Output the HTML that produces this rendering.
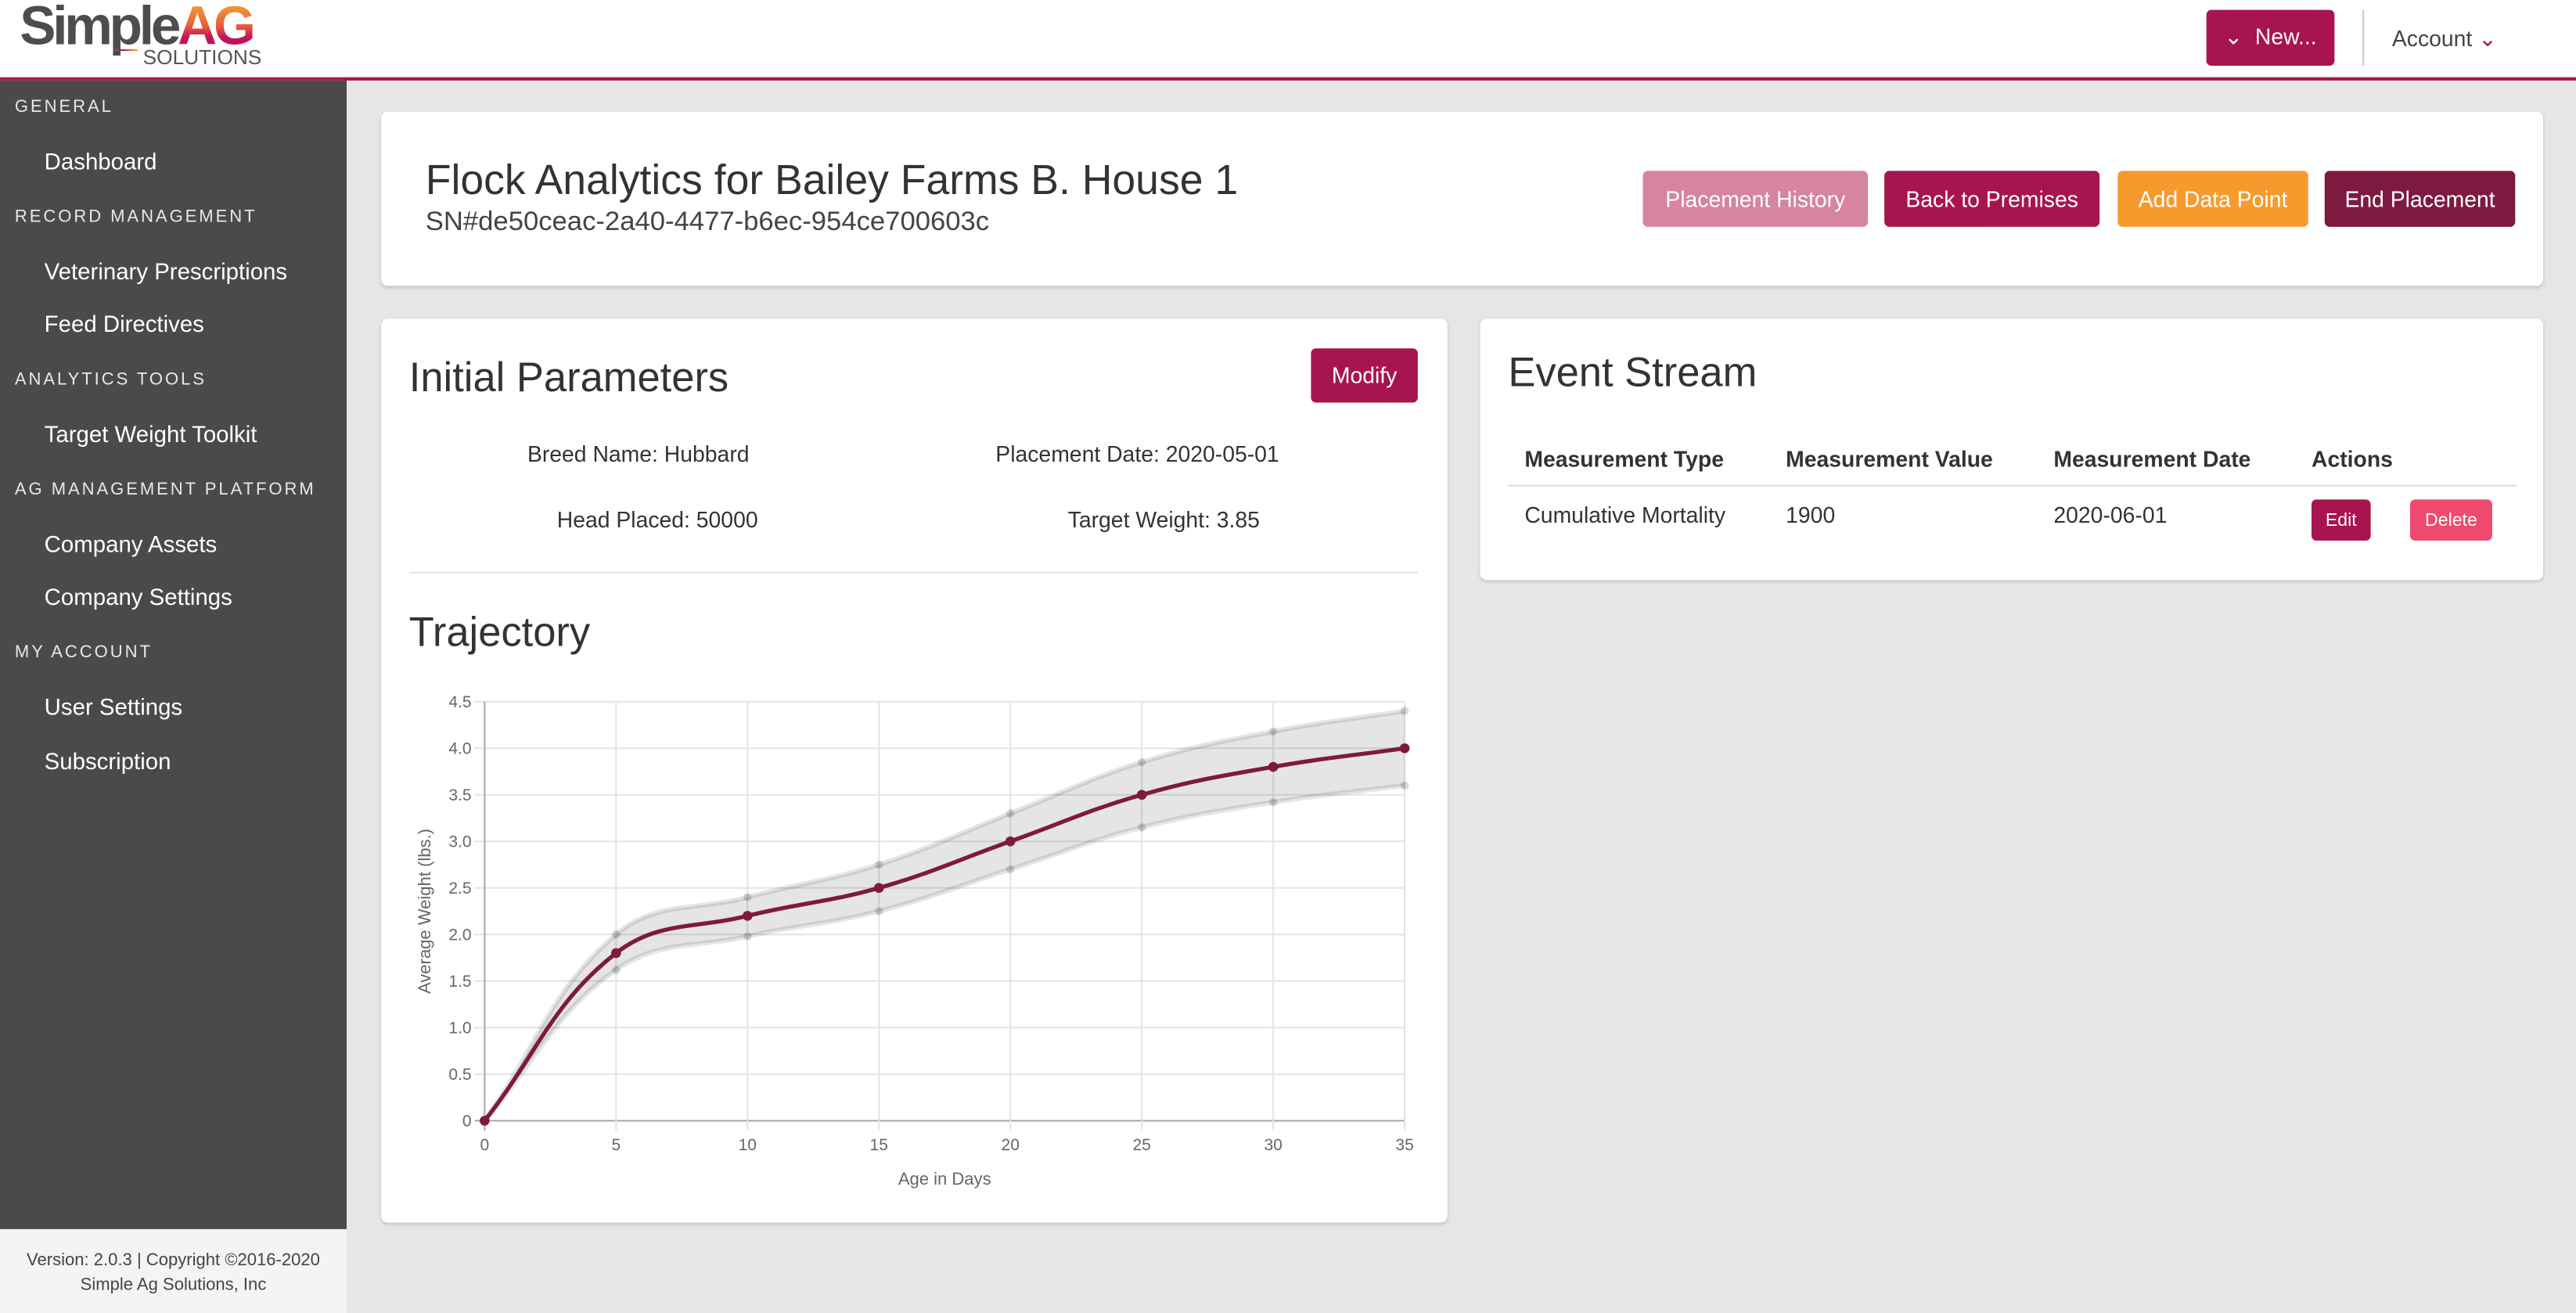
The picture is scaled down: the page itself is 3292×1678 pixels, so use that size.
<!DOCTYPE html>
<html><head><meta charset="utf-8">
<style>
html,body{margin:0;padding:0;width:3292px;height:1678px;overflow:hidden;background:#e6e6e6;font-family:"Liberation Sans",sans-serif}
#root{position:absolute;left:0;top:0;width:1568px;height:799px;transform-origin:0 0;transform:scale(2.0995,2.1001);background:#e6e6e6}
.a{position:absolute}
.card{position:absolute;background:#fff;border-radius:4px;box-shadow:0 1px 2px rgba(0,0,0,.15)}
.btn{position:absolute;color:#fff;font-size:13.5px;display:flex;align-items:center;justify-content:center;border-radius:3px}
.sh{position:absolute;left:9px;font-size:10.5px;letter-spacing:1.4px;color:#e8e8e8}
.si{position:absolute;left:27px;font-size:14px;color:#fff}
.t{position:absolute;color:#333;white-space:nowrap}
</style></head><body>
<div id="root">
<div class="a" style="left:0;top:0;width:1568px;height:47px;background:#fff;border-bottom:2px solid #a8174f"></div>
<div class="a" style="left:12px;top:0;width:150px;height:46px">
 <div class="a" style="left:0;top:-2px;font-size:33px;font-weight:bold;letter-spacing:-2px;color:#4d4d4d;line-height:36px">Simple<span style="background:linear-gradient(#f7b93a,#e8603a 50%,#c0155a 70%);-webkit-background-clip:text;color:transparent">AG</span></div>
 <div class="a" style="left:75px;top:29px;font-size:12.5px;color:#555;line-height:13px">SOLUTIONS</div>
 <div class="a" style="left:58px;top:30px;width:14px;height:1px;background:linear-gradient(90deg,#666,#a8174f,#e8603a,#f7b93a)"></div>
</div>
<div class="btn" style="left:1343px;top:6px;width:78px;height:34px;background:#a8144f">⌄&nbsp; New...</div>
<div class="a" style="left:1438px;top:6px;width:1px;height:34px;background:#ccc"></div>
<div class="t" style="left:1456px;top:16px;font-size:13.5px;color:#444">Account <span style="color:#a8144f">⌄</span></div>

<div class="a" style="left:0;top:49px;width:211px;height:699px;background:#4a4a4a">
 <div class="sh" style="top:10px">GENERAL</div>
 <div class="si" style="top:41px">Dashboard</div>
 <div class="sh" style="top:77px">RECORD MANAGEMENT</div>
 <div class="si" style="top:108px">Veterinary Prescriptions</div>
 <div class="si" style="top:140px">Feed Directives</div>
 <div class="sh" style="top:176px">ANALYTICS TOOLS</div>
 <div class="si" style="top:207px">Target Weight Toolkit</div>
 <div class="sh" style="top:243px">AG MANAGEMENT PLATFORM</div>
 <div class="si" style="top:274px">Company Assets</div>
 <div class="si" style="top:306px">Company Settings</div>
 <div class="sh" style="top:342px">MY ACCOUNT</div>
 <div class="si" style="top:373px">User Settings</div>
 <div class="si" style="top:406px">Subscription</div>
</div>
<div class="a" style="left:0;top:748px;width:211px;height:51px;background:#f4f4f4;font-size:10.5px;color:#444;text-align:center;line-height:15px;padding-top:12px;box-sizing:border-box">Version: 2.0.3 | Copyright ©2016-2020<br>Simple Ag Solutions, Inc</div>

<div class="card" style="left:232px;top:68px;width:1316px;height:106px">
 <div class="t" style="left:27px;top:28px;font-size:25.5px">Flock Analytics for Bailey Farms B. House 1</div>
 <div class="t" style="left:27px;top:58px;font-size:16.5px;color:#444">SN#de50ceac-2a40-4477-b6ec-954ce700603c</div>
 <div class="btn" style="left:768px;top:36px;width:137px;height:34px;background:#d6849f">Placement History</div>
 <div class="btn" style="left:915px;top:36px;width:131px;height:34px;background:#a8144f">Back to Premises</div>
 <div class="btn" style="left:1057px;top:36px;width:116px;height:34px;background:#f79a2e">Add Data Point</div>
 <div class="btn" style="left:1183px;top:36px;width:116px;height:34px;background:#7d1a3f">End Placement</div>
</div>

<div class="card" style="left:232px;top:194px;width:649px;height:550px">
 <div class="t" style="left:17px;top:22px;font-size:25px">Initial Parameters</div>
 <div class="btn" style="left:566px;top:18px;width:65px;height:33px;background:#a8144f">Modify</div>
 <div class="t" style="left:89px;top:75px;font-size:13.5px">Breed Name: Hubbard</div>
 <div class="t" style="left:374px;top:75px;font-size:13.5px">Placement Date: 2020-05-01</div>
 <div class="t" style="left:107px;top:115px;font-size:13.5px">Head Placed: 50000</div>
 <div class="t" style="left:418px;top:115px;font-size:13.5px">Target Weight: 3.85</div>
 <div class="a" style="left:17px;top:154px;width:614px;height:1px;background:#e4e4e4"></div>
 <div class="t" style="left:17px;top:177px;font-size:25px">Trajectory</div>
</div>
<svg id="chart" class="a" style="left:0;top:0" width="1568" height="799"></svg>

<div class="card" style="left:901px;top:194px;width:647px;height:159px">
 <div class="t" style="left:17px;top:19px;font-size:25px">Event Stream</div>
 <div class="t" style="left:27px;top:78px;font-size:13.5px;font-weight:bold">Measurement Type</div>
 <div class="t" style="left:186px;top:78px;font-size:13.5px;font-weight:bold">Measurement Value</div>
 <div class="t" style="left:349px;top:78px;font-size:13.5px;font-weight:bold">Measurement Date</div>
 <div class="t" style="left:506px;top:78px;font-size:13.5px;font-weight:bold">Actions</div>
 <div class="a" style="left:17px;top:101px;width:614px;height:1px;background:#ddd"></div>
 <div class="t" style="left:27px;top:112px;font-size:13.5px">Cumulative Mortality</div>
 <div class="t" style="left:186px;top:112px;font-size:13.5px">1900</div>
 <div class="t" style="left:349px;top:112px;font-size:13.5px">2020-06-01</div>
 <div class="btn" style="left:506px;top:110px;width:36px;height:25px;font-size:11px;background:#a8144f">Edit</div>
 <div class="btn" style="left:566px;top:110px;width:50px;height:25px;font-size:11px;background:#ef4a6e">Delete</div>
</div>
</div>
<script>
const days=[0,5,10,15,20,25,30,35];
const meanWeight=[0,1.8,2.2,2.5,3.0,3.5,3.8,4.0];
const upperWeight=[0,2.0,2.4,2.75,3.3,3.85,4.18,4.4];
const lowerWeight=[0,1.62,1.98,2.25,2.7,3.15,3.42,3.6];
const yTicks=[0,0.5,1.0,1.5,2.0,2.5,3.0,3.5,4.0,4.5];
const yTickLabels=['0','0.5','1.0','1.5','2.0','2.5','3.0','3.5','4.0','4.5'];
const xTicks=[0,5,10,15,20,25,30,35];

const svg=document.getElementById('chart');
const NS='http://www.w3.org/2000/svg';
const X0=295,X1=855,Y0=682,Y1=427;
const xs=v=>X0+(v-0)/(35-0)*(X1-X0);
const ys=v=>Y0-(v-0)/(4.5-0)*(Y0-Y1);
function mk(tag,attrs,name){const e=document.createElementNS(NS,tag);for(const k in attrs)e.setAttribute(k,attrs[k]);
 
 
 svg.appendChild(e);return e;}
function pts(arr){return days.map((d,i)=>[xs(d),ys(arr[i])]);}
function cps(p){const t=0.4,res=[];for(let i=0;i<p.length;i++){const a=p[Math.max(0,i-1)],b=p[i],c=p[Math.min(p.length-1,i+1)];
 const d01=Math.hypot(b[0]-a[0],b[1]-a[1]),d12=Math.hypot(c[0]-b[0],c[1]-b[1]);const s=d01+d12||1;
 const fa=t*d01/s,fb=t*d12/s;res.push({prev:[b[0]-fa*(c[0]-a[0]),b[1]-fa*(c[1]-a[1])],next:[b[0]+fb*(c[0]-a[0]),b[1]+fb*(c[1]-a[1])]});}return res;}
function curve(p,start){const c=cps(p);let d=(start?'M':'L')+p[0][0]+','+p[0][1];
 for(let i=1;i<p.length;i++)d+=' C'+c[i-1].next.join(',')+' '+c[i].prev.join(',')+' '+p[i].join(',');return d;}
yTicks.forEach((v,i)=>{mk('line',{x1:X0-6,x2:X1,y1:ys(v),y2:ys(v),stroke:v===0?'#aaa':'#e4e4e4','stroke-width':1},'y-gridline');
 const t=mk('text',{x:X0-8,y:ys(v)+3.5,'text-anchor':'end','font-size':10,fill:'#666','font-family':'Liberation Sans'},'y-tick-label');t.textContent=yTickLabels[i];});
xTicks.forEach(v=>{mk('line',{x1:xs(v),x2:xs(v),y1:Y1,y2:Y0+6,stroke:v===0?'#aaa':'#e4e4e4','stroke-width':1},'x-gridline');
 const t=mk('text',{x:xs(v),y:Y0+18,'text-anchor':'middle','font-size':10,fill:'#666','font-family':'Liberation Sans'},'x-tick-label');t.textContent=v;});
const up=pts(upperWeight),lo=pts(lowerWeight),mn=pts(meanWeight);
mk('path',{d:curve(up,true)+' '+curve(lo.slice().reverse(),false)+' Z',fill:'rgba(0,0,0,0.1)',stroke:'none'},'confidence-band');
mk('path',{d:curve(up,true),fill:'none',stroke:'rgba(0,0,0,0.1)','stroke-width':3},'upper-bound-line');
mk('path',{d:curve(lo,true),fill:'none',stroke:'rgba(0,0,0,0.1)','stroke-width':3},'lower-bound-line');
up.forEach(p=>mk('circle',{cx:p[0],cy:p[1],r:2.5,fill:'rgba(0,0,0,0.15)'},'upper-point'));
lo.forEach(p=>mk('circle',{cx:p[0],cy:p[1],r:2.5,fill:'rgba(0,0,0,0.15)'},'lower-point'));
mk('path',{d:curve(mn,true),fill:'none',stroke:'#7d1a3f','stroke-width':2.5},'mean-weight-line');
mn.forEach(p=>mk('circle',{cx:p[0],cy:p[1],r:3,fill:'#7d1a3f'},'mean-point'));
const xt=mk('text',{x:(X0+X1)/2,y:721,'text-anchor':'middle','font-size':10.5,fill:'#666','font-family':'Liberation Sans'},'x-axis-title');xt.textContent='Age in Days';
const yt=mk('text',{x:0,y:0,transform:'translate(262,'+((Y0+Y1)/2)+') rotate(-90)','text-anchor':'middle','font-size':10.5,fill:'#666','font-family':'Liberation Sans'},'y-axis-title');yt.textContent='Average Weight (lbs.)';
</script>
</body></html>
